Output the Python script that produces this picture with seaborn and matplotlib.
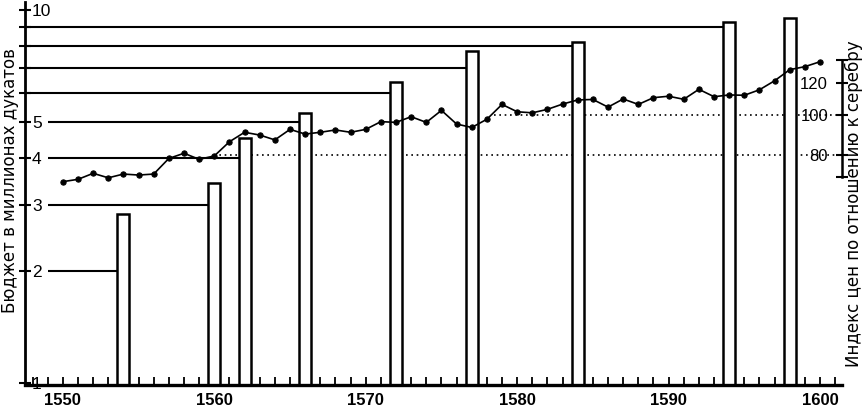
"""
Spanish crown budget (bars, log scale) against the silver price index (line).
Writes out.png, 867x408 px.
"""

import matplotlib
matplotlib.use("Agg")
import matplotlib.pyplot as plt
import matplotlib.transforms as mtransforms
from matplotlib.ticker import FixedLocator, FixedFormatter, NullLocator, NullFormatter
import seaborn as sns

# ---------------------------------------------------------------------------
# Data
# ---------------------------------------------------------------------------

bar_years = [1554, 1560, 1562, 1566, 1572, 1577, 1584, 1594, 1598]
budget = [2.84, 3.44, 4.54, 5.30, 6.41, 7.77, 8.20, 9.29, 9.52]   # million ducats

# guide line level drawn from the axis to the first eight bars
guide_levels = [2, 3, 4, 5, 6, 7, 8, 9]

price_years = list(range(1550, 1601))
price_index = [
    68.9, 69.8, 72.2, 70.4, 71.9, 71.5, 71.9, 78.5, 80.8, 78.1,
    79.6, 86.2, 90.9, 89.5, 87.1, 92.4, 90.0, 90.9, 92.1, 90.9,
    92.4, 96.5, 96.1, 99.2, 96.1, 102.8, 95.2, 93.4, 97.8, 106.3,
    102.0, 101.4, 103.4, 106.5, 109.0, 109.3, 104.7, 109.6, 106.3, 110.4,
    111.3, 109.4, 115.7, 111.0, 112.1, 111.9, 115.4, 121.4, 129.2, 131.4,
    135.1,
]

# dotted reference levels of the price index and the year they start from
dotted_levels = [80, 100]
dotted_from = [1560, 1578.5]

left_ticks = [1, 2, 3, 4, 5, 6, 7, 8, 9, 10]
left_labels = ["1", "2", "3", "4", "5", "", "", "", "", "10"]
right_ticks = [80, 100, 120]
x_major = list(range(1550, 1601, 10))

left_title = "Бюджет в миллионах дукатов"
right_title = "Индекс цен по отношению к серебру"

# ---------------------------------------------------------------------------
# Style
# ---------------------------------------------------------------------------

sns.set_theme(style="ticks", rc={
    "axes.edgecolor": "black",
    "xtick.color": "black",
    "ytick.color": "black",
    "text.color": "black",
    "axes.labelcolor": "black",
})
plt.rcParams["font.family"] = ["Liberation Sans", "DejaVu Sans"]

W, H = 867, 408
fig = plt.figure(figsize=(W / 100, H / 100), dpi=100)
ax = fig.add_axes([25 / W, 23 / H, 817 / W, 383 / H])
ax2 = ax.twinx()

XMIN, XMAX = 1547.5, 1601.45
half_bar = 0.4   # years

# ---------------------------------------------------------------------------
# Bars (budget); drawn linear from 0, then the axis is switched to log
# ---------------------------------------------------------------------------

# with native_scale the width is relative to the smallest gap (2 years)
sns.barplot(
    x=bar_years, y=budget, native_scale=True,
    width=half_bar, color="white", saturation=1,
    edgecolor="black", linewidth=1.8, errorbar=None, ax=ax, zorder=2,
)
ax.set_yscale("log", nonpositive="clip")

# horizontal guides from the axis to each bar
labelled = [lab for lab in left_labels if lab]
guide_start = [1549 if str(lv) in labelled else XMIN for lv in guide_levels]
ax.hlines(guide_levels, xmin=guide_start,
          xmax=[yr - half_bar for yr in bar_years[:len(guide_levels)]],
          color="black", linewidth=1.5, zorder=1)

# dotted price levels, drawn beneath the bars
blend = mtransforms.blended_transform_factory(ax.transData, ax2.transData)
for lv, start in zip(dotted_levels, dotted_from):
    ax.plot([start, XMAX], [lv, lv], transform=blend, color="black",
            linewidth=1.2, linestyle=(0, (1, 2.2)), zorder=1)

# ---------------------------------------------------------------------------
# Price index line on the right axis
# ---------------------------------------------------------------------------

ax2.set_yscale("log")
sns.lineplot(x=price_years, y=price_index, ax=ax2, color="black",
             linewidth=1.2, marker="o", markersize=3.8,
             markeredgecolor="black", markerfacecolor="black")

# ---------------------------------------------------------------------------
# Axes, ticks, labels
# ---------------------------------------------------------------------------

ax.set_xlim(XMIN, XMAX)
ax.set_ylim(0.988, 10.5)
ax2.set_ylim(22.0, 188.9)

ax.set_xlabel("")
ax.set_ylabel("")
ax2.set_ylabel("")

ax.xaxis.set_major_locator(FixedLocator(x_major))
ax.xaxis.set_major_formatter(FixedFormatter([str(v) for v in x_major]))
ax.xaxis.set_minor_locator(FixedLocator(list(range(1548, 1602))))
ax.tick_params(axis="x", which="both", direction="in", length=5.5, width=1.3,
               pad=6, labelsize=12, top=False, bottom=True)
plt.setp(ax.get_xticklabels(), fontweight="bold")

ax.yaxis.set_major_locator(FixedLocator(left_ticks))
ax.yaxis.set_major_formatter(FixedFormatter(left_labels))
ax.yaxis.set_minor_locator(NullLocator())
ax.yaxis.set_minor_formatter(NullFormatter())
ax.tick_params(axis="y", which="major", direction="inout", length=9, width=1.5,
               pad=-9.5, labelsize=12.5, left=True, right=False)
plt.setp(ax.get_yticklabels(), ha="left")

ax2.yaxis.set_major_locator(FixedLocator(right_ticks))
ax2.yaxis.set_major_formatter(FixedFormatter([str(v) for v in right_ticks]))
ax2.yaxis.set_minor_locator(FixedLocator([70.7, 136.4]))
ax2.yaxis.set_minor_formatter(NullFormatter())
ax2.tick_params(axis="y", which="both", direction="inout", length=9, width=1.5,
                pad=-14.5, labelsize=12, right=True, left=False)
plt.setp(ax2.get_yticklabels(), ha="right")

for side in ["top", "right"]:
    ax.spines[side].set_visible(False)
ax.spines["left"].set_linewidth(2)
ax.spines["bottom"].set_linewidth(2.4)
for side in ["top", "left", "bottom"]:
    ax2.spines[side].set_visible(False)
ax2.spines["right"].set_linewidth(1.8)
ax2.spines["right"].set_bounds(70.7, 136.4)

fig.text(10 / W, 1 - 181 / H, left_title, rotation=90, ha="center", va="center",
         fontsize=12, family="DejaVu Sans")
fig.text(854 / W, 1 - 204 / H, right_title, rotation=90, ha="center", va="center",
         fontsize=12, family="DejaVu Sans")

fig.savefig("out.png", dpi=100)
